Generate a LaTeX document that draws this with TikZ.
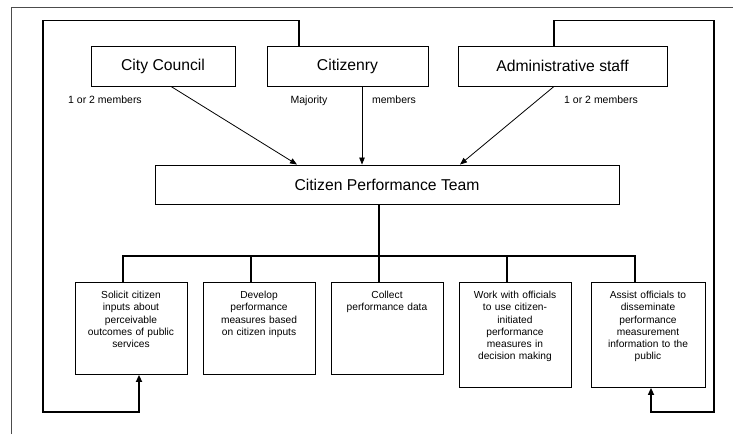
\documentclass[tikz,border=0pt]{standalone}
\usepackage{fontspec}
\setmainfont{Liberation Sans}
\usetikzlibrary{arrows.meta}

\begin{document}
\begin{tikzpicture}[x=1pt,y=-1pt,
    topbox/.style={draw,line width=.9pt,minimum height=40pt,inner sep=0pt,font=\fontsize{15.7}{18}\selectfont},
    task/.style={draw,line width=.9pt,anchor=north,text width=104pt,align=center,inner xsep=4pt,inner ysep=0pt,text height=16pt,font=\fontsize{10.2}{12.3}\selectfont},
    note/.style={inner sep=0pt,anchor=base,font=\fontsize{10.5}{12}\selectfont},
    feed/.style={line width=1.6pt},
    member/.style={line width=.8pt,-{Triangle[length=7pt,width=5.5pt]}}]

        \useasboundingbox (0,0) rectangle (733,434);
        \draw[gray!60!black,line width=1pt] (11,434) |- (733,7);

        % members of the team
        \node[topbox,minimum width=144pt] (council)   at (163,66)   {City Council};
        \node[topbox,minimum width=161pt] (citizenry) at (347.5,66) {Citizenry};
        \node[topbox,minimum width=209pt] (staff)     at (562.5,66) {Administrative staff};

        \node[note] (councilshare) at (105,103) {1 or 2 members};
        \node[note] (majority)     at (309,103) {Majority};
        \node[note] (majority2)    at (394,103) {members};
        \node[note] (staffshare)   at (601,103) {1 or 2 members};

        \node[topbox,minimum width=464pt,minimum height=39pt] (team) at (387,184.5) {Citizen Performance Team};

        % tasks
        \node[task,text depth=76pt] (solicit) at (131,282) {Solicit citizen\\inputs about\\perceivable\\outcomes of public\\services};
        \node[task,text depth=76pt] (develop) at (259,282) {Develop\\performance\\measures based\\on citizen inputs};
        \node[task,text depth=76pt] (collect) at (387,282) {Collect\\performance data};
        \node[task,text depth=89pt] (work)    at (515,282) {Work with officials\\to use citizen-\\initiated\\performance\\measures in\\decision making};
        \node[task,text depth=89pt,text width=106pt] (assist) at (648,282) {Assist officials to\\disseminate\\performance\\measurement\\information to the\\public};

        \coordinate (lb) at (43,412);
        \coordinate (rb) at (714,412);

        \draw[member] ([xshift=8pt]council.south)    -- ([xshift=-90pt]team.north);
        \draw[member] ([xshift=14.5pt]citizenry.south) -- ([xshift=-25pt]team.north);
        \draw[member] ([xshift=-8.5pt]staff.south)   -- ([xshift=73pt]team.north);

        \draw[feed] ([xshift=-8pt]team.south) -- ([xshift=-8pt]collect.north);
        \draw[feed] ([xshift=-8pt]solicit.north) -- ++(0,-26) -| ([xshift=-13pt]assist.north);
        \foreach \t in {develop,work}
          \draw[feed] ([xshift=-8pt]\t.north) -- ++(0,-26);

        % feedback loops
        \draw[feed,-{Triangle[length=7pt,width=6pt]}] ([xshift=-48.5pt]citizenry.north) -- ++(0,-25) -| (lb) -| ([xshift=8pt]solicit.south);
        \draw[feed,-{Triangle[length=7pt,width=6pt]}] ([xshift=-8.5pt]staff.north) -- ++(0,-25) -| (rb) -| ([xshift=3pt]assist.south);

\end{tikzpicture}
\end{document}
